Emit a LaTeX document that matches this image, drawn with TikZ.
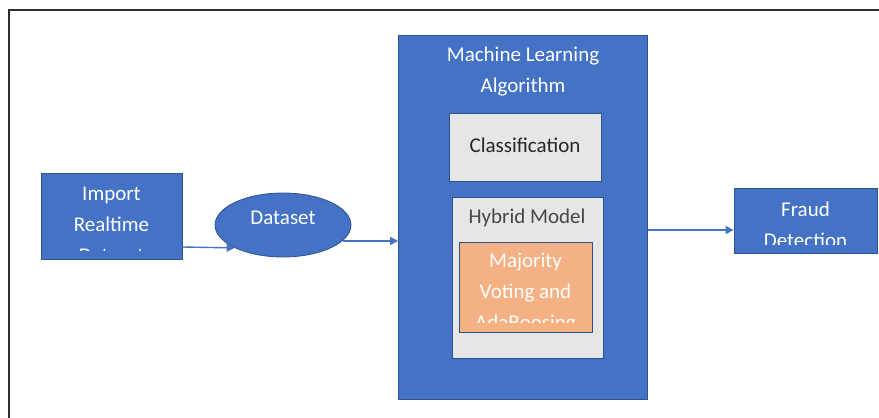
\documentclass[tikz,border=0pt]{standalone}
\usepackage{fontspec}
\setmainfont{Carlito}
\usetikzlibrary{arrows.meta,shapes.geometric}
\definecolor{blu}{HTML}{4472C4}
\definecolor{bord}{HTML}{2F528F}
\definecolor{gry}{HTML}{E7E6E6}
\definecolor{org}{HTML}{F4B183}
\definecolor{framec}{HTML}{303030}
\definecolor{dtext}{HTML}{262626}
\begin{document}
\begin{tikzpicture}[x=1pt,y=-1pt,
  bluebox/.style={draw=bord, line width=0.8pt, fill=blu, inner sep=0pt},
  greybox/.style={draw=bord, line width=0.8pt, fill=gry, inner sep=0pt},
  orgbox/.style={draw=bord, line width=0.8pt, fill=org, inner sep=0pt},
  txt/.style={font=\fontsize{21}{31}\selectfont, align=center, inner sep=0pt},
  arr/.style={draw=blu, line width=1.4pt, -{Triangle[length=8pt,width=8pt]}}]
\useasboundingbox (0,0) rectangle (879,418);
\draw[framec, line width=1.3pt] (9,418) -- (9,10) -- (879,10);

% nodes
\node[bluebox, minimum width=141pt, minimum height=86pt] (imp) at (111.5,216) {};
\node[bluebox, ellipse, minimum width=136pt, minimum height=64pt] (ds) at (283,225) {};
\node[bluebox, minimum width=249pt, minimum height=364pt] (ml) at (523,217) {};
\node[greybox, minimum width=152pt, minimum height=68pt] (cls) at (525,147) {};
\node[greybox, minimum width=151pt, minimum height=161pt] (hyb) at (527.5,277.5) {};
\node[orgbox, minimum width=133pt, minimum height=90pt] (maj) at (525.5,287) {};
\node[bluebox, minimum width=143pt, minimum height=65pt] (fr) at (805.5,221) {};

% texts
\begin{scope}
  \clip ([xshift=1pt,yshift=-1pt]imp.north west) rectangle ([xshift=-1pt,yshift=9pt]imp.south east);
  \node[txt, text=white] (impt) at (111.5,225) {Import\\Realtime\\Dataset};
\end{scope}
\node[txt, text=white] (dst) at (283,218) {Dataset};
\node[txt, text=white] (mlt) at (523,72) {Machine Learning\\Algorithm};
\node[txt, text=dtext] (clst) at (525,145) {Classification};
\node[txt, text=dtext!85] (hybt) at (527,218) {Hybrid Model};
\begin{scope}
  \clip ([xshift=1pt,yshift=-1pt]maj.north west) rectangle ([xshift=-1pt,yshift=10pt]maj.south east);
  \node[txt, text=white] (majt) at (525.5,293) {Majority\\Voting and\\AdaBoosing};
\end{scope}
\begin{scope}
  \clip ([xshift=1pt,yshift=-1pt]fr.north west) rectangle ([xshift=-1pt,yshift=9pt]fr.south east);
  \node[txt, text=white] (frt) at (805.5,225) {Fraud\\Detection};
\end{scope}

% connectors
\draw[arr] ([yshift=-31pt]imp.east) -- (ds.south west);
\draw[arr] (ds.-15) -- (ds.-15 -| ml.west);
\draw[arr] ([yshift=-9pt]fr.west -| ml.east) -- ([yshift=-9pt]fr.west);
\end{tikzpicture}
\end{document}
